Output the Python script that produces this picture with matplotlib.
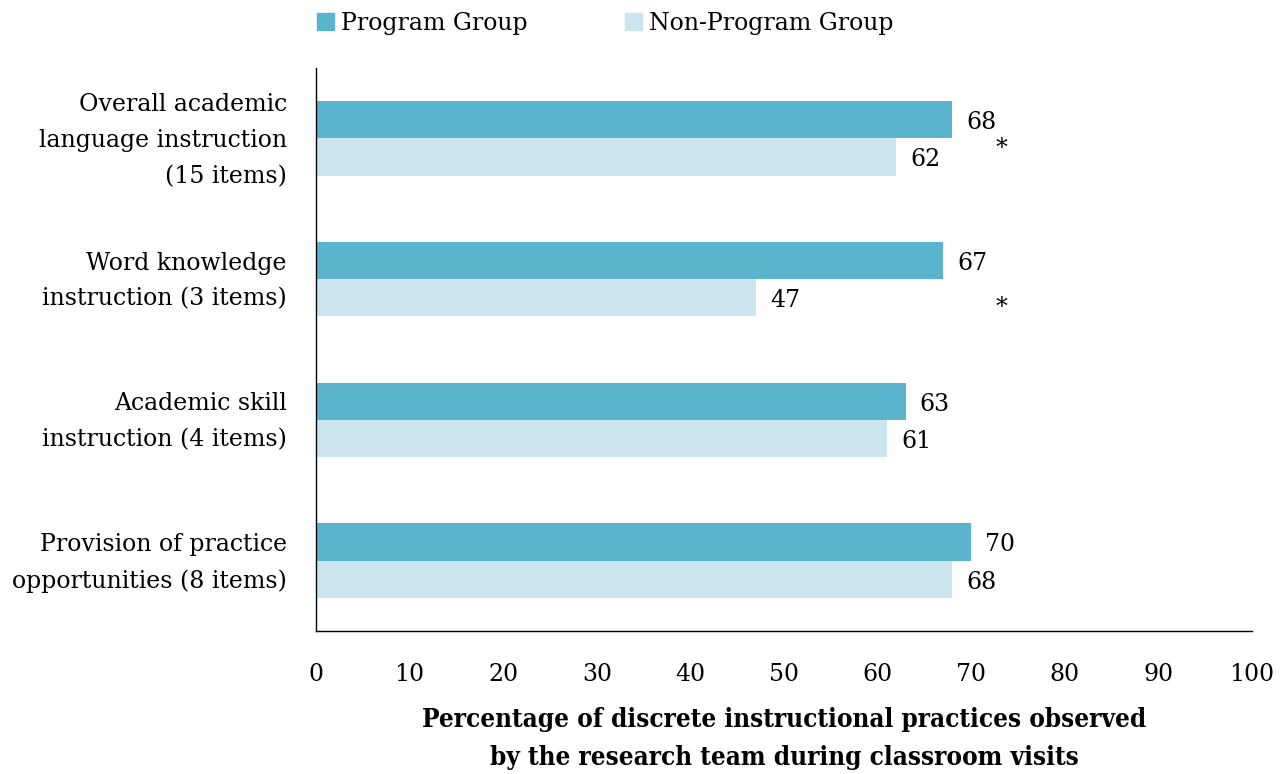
import numpy as np
import matplotlib.pyplot as plt
import matplotlib.transforms as mtransforms
from matplotlib.patches import Patch

# data
categories = ['Overall academic\nlanguage instruction\n(15 items)',
              'Word knowledge\ninstruction (3 items)',
              'Academic skill\ninstruction (4 items)',
              'Provision of practice\nopportunities (8 items)']
program = [68, 67, 63, 70]
non_program = [62, 47, 61, 68]
significant = [True, True, False, False]

c_prog = '#5ab4cd'
c_non = '#cbe4ed'

plt.rcParams['font.family'] = ['DejaVu Serif']

fig = plt.figure(figsize=(12.84, 7.74), dpi=100)
ax = fig.add_axes([316/1284, 1 - 631/774, 936/1284, 563/774])

y = np.arange(len(categories))
h = 0.265
ax.barh(y - h/2, program, height=h, color=c_prog)
ax.barh(y + h/2, non_program, height=h, color=c_non)

for i in range(len(categories)):
    ax.text(program[i] + 1.5, y[i] - h/2 + 0.02, str(program[i]), va='center', ha='left', fontsize=17)
    ax.text(non_program[i] + 1.5, y[i] + h/2 + 0.02, str(non_program[i]), va='center', ha='left', fontsize=17)

# significance markers
star_y = [0.07, 1.2]
k = 0
for i in range(len(categories)):
    if significant[i]:
        ax.text(73.2, star_y[k], '*', ha='center', va='center', fontsize=17)
        k += 1

ax.set_xlim(0, 100)
ax.set_ylim(3.5, -0.5)
ax.set_xticks(range(0, 101, 10))
ax.set_yticks(y)
ax.set_yticklabels(categories, fontsize=17, linespacing=1.72)
ax.tick_params(axis='both', length=0)
ax.tick_params(axis='x', labelsize=17, pad=23)
ax.tick_params(axis='y', pad=21)
shift = mtransforms.ScaledTranslation(0, 7/100, fig.dpi_scale_trans)
for lab in ax.get_yticklabels():
    lab.set_transform(lab.get_transform() + shift)
for s in ['top', 'right']:
    ax.spines[s].set_visible(False)
ax.spines['left'].set_linewidth(1.0)
ax.spines['bottom'].set_linewidth(1.0)

ax.set_xlabel('Percentage of discrete instructional practices observed\nby the research team during classroom visits',
              fontsize=18.7, fontweight='bold', labelpad=15, linespacing=1.68, fontstretch='condensed')

handles = [Patch(color=c_prog, label='Program Group'), Patch(color=c_non, label='Non-Program Group')]
fig.legend(handles=handles, loc='upper left', bbox_to_anchor=(296/1284, 1.012), ncol=2, frameon=False,
           fontsize=17, handlelength=0.72, handleheight=0.72, handletextpad=0.3, columnspacing=4.1)

fig.savefig('out.png', dpi=100)
